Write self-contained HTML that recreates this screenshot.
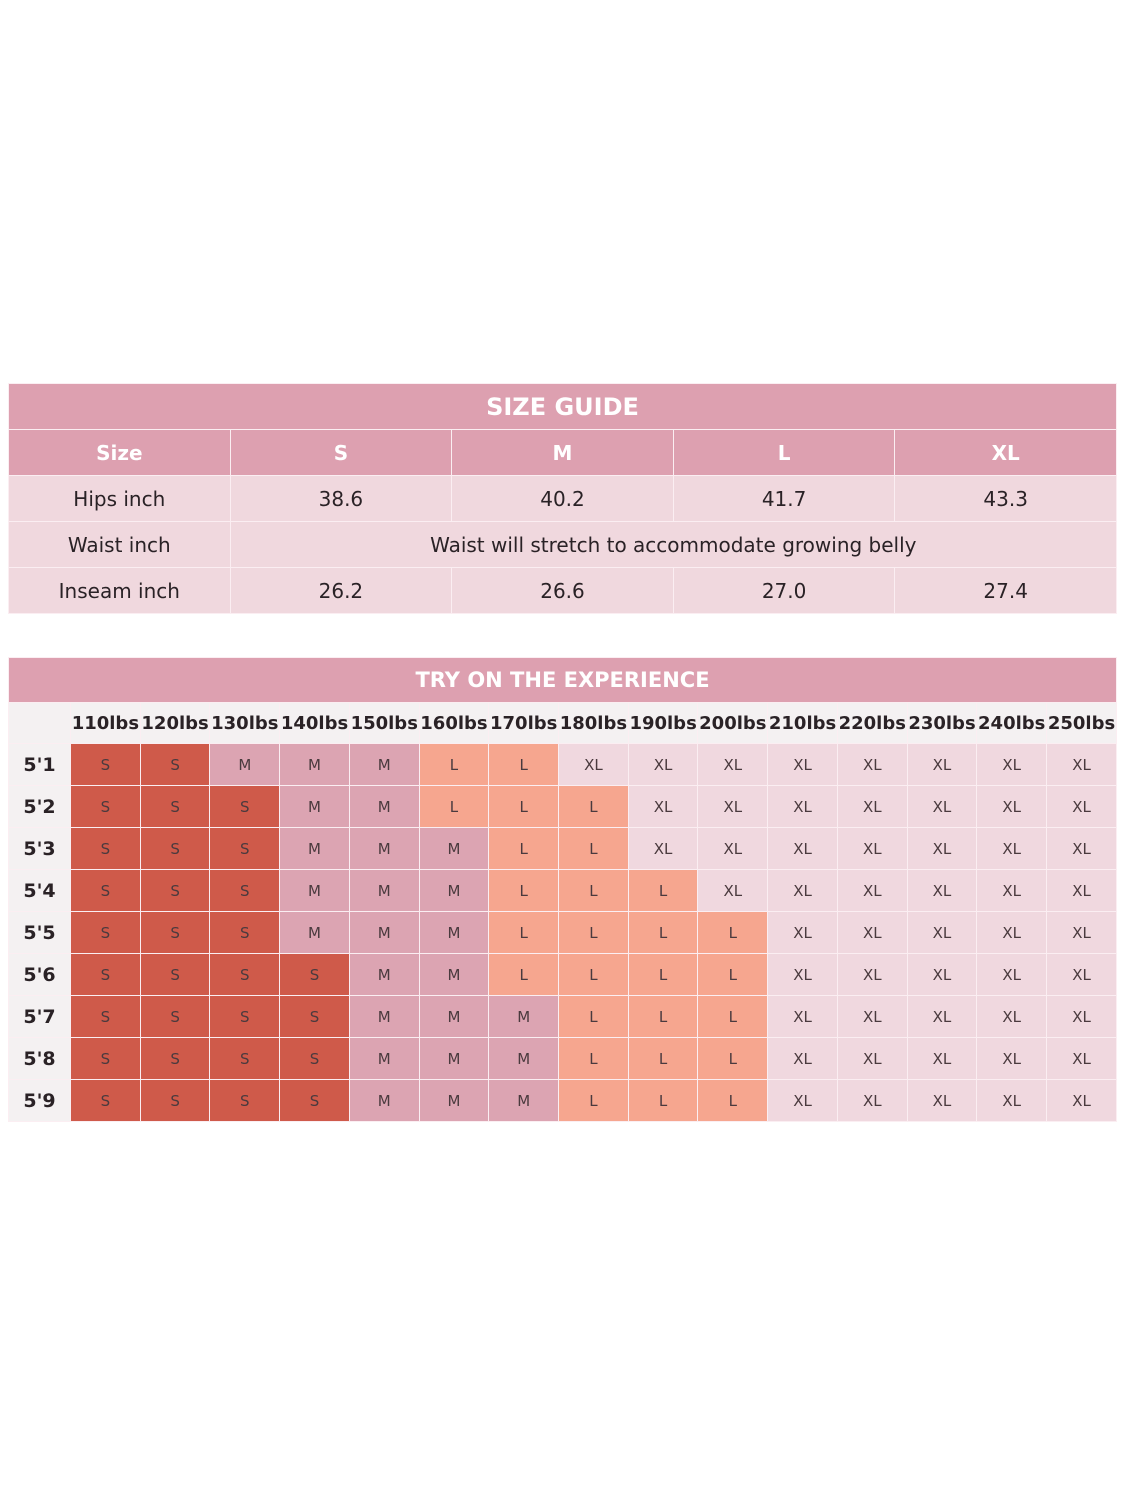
<!DOCTYPE html>
<html><head><meta charset="utf-8"><style>
body{margin:0;width:1125px;height:1500px;background:#fff;font-family:"DejaVu Sans","Liberation Sans",sans-serif;position:relative}
.t{position:absolute;left:8px;width:1109px;border-collapse:collapse;table-layout:fixed}
.t td{text-align:center;padding:0;border:1.5px solid #fbeef2;color:#2a2226}
.t td.ttl{background:#dda0b0;color:#fff;font-weight:bold;font-size:24px}
.t td.hd{background:#dda0b0;color:#fff;font-weight:bold;font-size:20px}
.lt{background:#f0d8de;font-size:20px}
#t1 td{height:45px}
#t2 .w td{background:#f4f1f2;font-weight:bold;font-size:18px;height:40px}
#t2 .r td{height:41px;font-size:15px;color:#4a3a3e}
#t2 .r td.h{background:#f4f1f2;font-weight:bold;font-size:19px;color:#2a2226}
.S{background:#cf5a4a}.M{background:#dca4b2}.L{background:#f6a68f}.X{background:#f0d8df}
</style></head><body>
<table class="t" id="t1" style="top:383px">
<tr><td class="ttl" colspan="5">SIZE GUIDE</td></tr>
<tr><td class="hd">Size</td><td class="hd">S</td><td class="hd">M</td><td class="hd">L</td><td class="hd">XL</td></tr>
<tr><td class="lt">Hips inch</td><td class="lt">38.6</td><td class="lt">40.2</td><td class="lt">41.7</td><td class="lt">43.3</td></tr>
<tr><td class="lt">Waist inch</td><td class="lt" colspan="4">Waist will stretch to accommodate growing belly</td></tr>
<tr><td class="lt">Inseam inch</td><td class="lt">26.2</td><td class="lt">26.6</td><td class="lt">27.0</td><td class="lt">27.4</td></tr>
</table>
<table class="t" id="t2" style="top:657px">
<colgroup><col style="width:62px"></colgroup>
<tr><td class="ttl" colspan="16" style="height:44px;font-size:21px">TRY ON THE EXPERIENCE</td></tr>
<tbody id="b"></tbody>
</table>
<script>
var rows=[["5'1","SSMMMLLXXXXXXXX"],["5'2","SSSMMLLLXXXXXXX"],["5'3","SSSMMMLLXXXXXXX"],["5'4","SSSMMMLLLXXXXXX"],["5'5","SSSMMMLLLLXXXXX"],["5'6","SSSSMMLLLLXXXXX"],["5'7","SSSSMMMLLLXXXXX"],["5'8","SSSSMMMLLLXXXXX"],["5'9","SSSSMMMLLLXXXXX"]];
var h='<tr class="w"><td></td>';for(var i=0;i<15;i++)h+='<td>'+(110+i*10)+'lbs</td>';h+='</tr>';
rows.forEach(function(r){h+='<tr class="r"><td class="h">'+r[0]+'</td>';for(var i=0;i<15;i++){var c=r[1][i];h+='<td class="'+c+'">'+(c=='X'?'XL':c)+'</td>';}h+='</tr>';});
document.getElementById('b').innerHTML=h;
</script>
</body></html>
